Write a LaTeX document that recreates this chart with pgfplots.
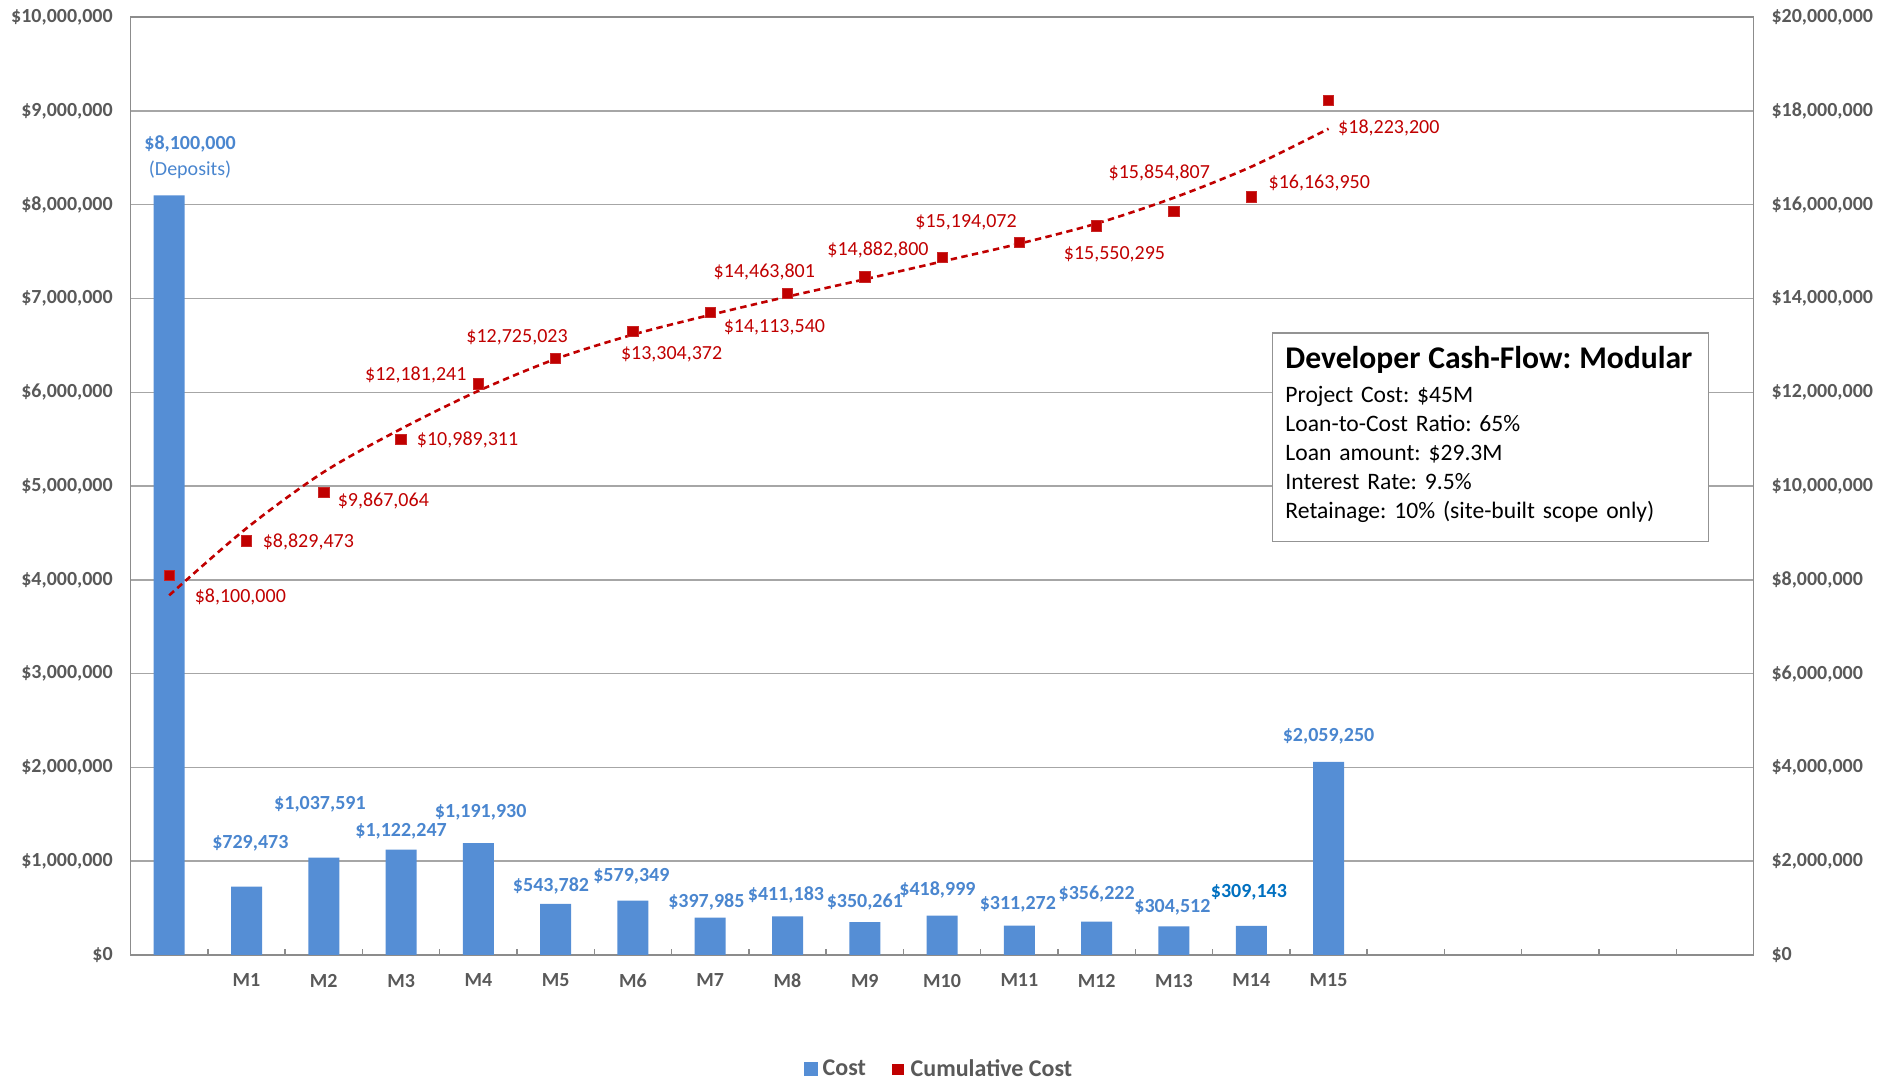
\documentclass[border=0pt]{standalone}
\usepackage{fontspec}
\setmainfont{Carlito}
\usepackage{pgfplots}
\pgfplotsset{compat=1.18}
\frenchspacing

\definecolor{barblue}{HTML}{558ED5}
\definecolor{lblblue}{HTML}{4A86CF}
\definecolor{darkblue}{HTML}{0070C0}
\definecolor{cumred}{HTML}{C00000}
\definecolor{tickgray}{HTML}{595959}
\definecolor{gridgray}{HTML}{A6A6A6}
\definecolor{axisgray}{HTML}{8C8C8C}

\pgfplotsset{
  cashaxis/.style={
    scale only axis, width=811.6pt, height=468.9pt,
    xmin=-0.5, xmax=20.5, clip=false,
    major tick length=0pt,
    ticklabel style={font=\fontsize{10}{12}\selectfont\bfseries, text=tickgray},
  },
}

\tikzset{
  bl/.style={font=\fontsize{10}{12}\selectfont\bfseries, text=lblblue, inner sep=0pt},
  rl/.style={font=\fontsize{10}{12}\selectfont, text=cumred, inner sep=0pt},
}

\begin{document}
\begin{tikzpicture}
\useasboundingbox (-65.3pt,-63.7pt) rectangle (882.3pt,477.5pt);

% monthly cost on the left scale
\begin{axis}[cashaxis,
  ymin=0, ymax=10000000,
  axis line style={draw=axisgray, line width=0.8pt},
  ymajorgrids, grid style={draw=gridgray, line width=0.7pt},
  xtick={1,...,15},
  xticklabels={M1,M2,M3,M4,M5,M6,M7,M8,M9,M10,M11,M12,M13,M14,M15},
  xtick pos=bottom,
  minor xtick={0.5,1.5,...,19.5},
  minor tick length=2.8pt,
  minor x tick style={draw=axisgray, line width=0.7pt},
  xticklabel style={yshift=-6pt},
  ytick={0,1000000,2000000,3000000,4000000,5000000,6000000,7000000,8000000,9000000,10000000},
  yticklabels={{\$0},{\$1,000,000},{\$2,000,000},{\$3,000,000},{\$4,000,000},{\$5,000,000},{\$6,000,000},{\$7,000,000},{\$8,000,000},{\$9,000,000},{\$10,000,000}},
  ytick pos=left,
  yticklabel style={xshift=-5.4pt, inner ysep=0pt},
  legend style={at={(0.4975,-0.122)}, anchor=center, draw=none, fill=none,
    legend columns=2, font=\fontsize{12}{14}\selectfont\bfseries, text=tickgray,
    nodes={inner xsep=0pt},
    /tikz/every even column/.append style={column sep=13pt}},
]
\addplot[ybar, bar width=15.5pt, bar shift=0pt, fill=barblue, draw=none,
  legend image code/.code={\fill[barblue] (0pt,-3.4pt) rectangle (7.2pt,3.8pt);
    \path (9.4pt,0pt);}]
  coordinates {(0,8100000) (1,729473) (2,1037591) (3,1122247) (4,1191930)
    (5,543782) (6,579349) (7,397985) (8,411183) (9,350261) (10,418999)
    (11,311272) (12,356222) (13,304512) (14,309143) (15,2059250)};
\addlegendentry{Cost}
\addlegendimage{legend image code/.code={\fill[cumred] (0pt,-2.5pt) rectangle (5.5pt,2.5pt);
    \path (9pt,0pt);}}
\addlegendentry{Cumulative Cost}

\node[bl] at (axis cs:0.27,8647000) {\$8,100,000};
\node[bl, font=\fontsize{10}{12}\selectfont] at (axis cs:0.27,8376000) {(Deposits)};
\node[bl] at (axis cs:1.05,1186000) {\$729,473};
\node[bl] at (axis cs:1.95,1611000) {\$1,037,591};
\node[bl] at (axis cs:3.00,1314000) {\$1,122,247};
\node[bl] at (axis cs:4.03,1521000) {\$1,191,930};
\node[bl] at (axis cs:4.94,735000) {\$543,782};
\node[bl] at (axis cs:5.98,838000) {\$579,349};
\node[bl] at (axis cs:6.95,567000) {\$397,985};
\node[bl] at (axis cs:7.98,644000) {\$411,183};
\node[bl] at (axis cs:9.00,567000) {\$350,261};
\node[bl] at (axis cs:9.94,696000) {\$418,999};
\node[bl] at (axis cs:10.98,541000) {\$311,272};
\node[bl] at (axis cs:12.00,644000) {\$356,222};
\node[bl] at (axis cs:12.98,503000) {\$304,512};
\node[bl, text=darkblue] at (axis cs:13.97,670000) {\$309,143};
\node[bl] at (axis cs:15.00,2332000) {\$2,059,250};

% project summary box
\node[draw=gray!85, line width=0.7pt, fill=white, anchor=north west,
  inner xsep=6.6pt, inner ysep=0pt, text width=204.8pt, align=left,
  font=\fontsize{11.8}{14.5}\selectfont]
  at (rel axis cs:0.703,0.664)
  {\rule{0pt}{17.9pt}{\fontsize{15.8}{17}\selectfont\bfseries Developer Cash-Flow: Modular}\\[2.4pt]
   Project Cost: \$45M\\
   Loan-to-Cost Ratio: 65\%\\
   Loan amount: \$29.3M\\
   Interest Rate: 9.5\%\\
   Retainage: 10\% (site-built scope only)\rule[-11.5pt]{0pt}{11.5pt}};
\end{axis}

% cumulative cost on the right scale
\begin{axis}[cashaxis,
  ymin=0, ymax=20000000,
  axis x line=none,
  axis y line*=right,
  y axis line style={draw=axisgray, line width=0.8pt},
  ytick={0,2000000,4000000,6000000,8000000,10000000,12000000,14000000,16000000,18000000,20000000},
  yticklabels={{\$0},{\$2,000,000},{\$4,000,000},{\$6,000,000},{\$8,000,000},{\$10,000,000},{\$12,000,000},{\$14,000,000},{\$16,000,000},{\$18,000,000},{\$20,000,000}},
  yticklabel style={xshift=5.4pt, inner ysep=0pt},
]
% trend of the cumulative cost
\addplot[cumred, line width=1.3pt, dash pattern=on 3.2pt off 2.2pt, smooth]
  coordinates {(0,7670000) (1,9100000) (2,10300000) (3,11220000) (4,12030000)
    (5,12710000) (6,13230000) (7,13650000) (8,14040000) (9,14410000)
    (10,14790000) (11,15170000) (12,15600000) (13,16150000) (14,16810000)
    (15,17620000)};
\addplot[only marks, mark=square*, mark size=2.6pt, color=cumred,
  mark options={draw=cumred!85!white, line width=0.4pt}]
  coordinates {(0,8100000) (1,8829473) (2,9867064) (3,10989311) (4,12181241)
    (5,12725023) (6,13304372) (7,13702357) (8,14113540) (9,14463801)
    (10,14882800) (11,15194072) (12,15550295) (13,15854807) (14,16163950)
    (15,18223200)};

\node[rl] at (axis cs:0.92,7630000) {\$8,100,000};
\node[rl] at (axis cs:1.80,8810000) {\$8,829,473};
\node[rl] at (axis cs:2.77,9690000) {\$9,867,064};
\node[rl] at (axis cs:3.86,10980000) {\$10,989,311};
\node[rl] at (axis cs:3.19,12370000) {\$12,181,241};
\node[rl] at (axis cs:4.50,13170000) {\$12,725,023};
\node[rl] at (axis cs:6.50,12810000) {\$13,304,372};
\node[rl] at (axis cs:7.83,13380000) {\$14,113,540};
\node[rl] at (axis cs:7.70,14560000) {\$14,463,801};
\node[rl] at (axis cs:9.17,15030000) {\$14,882,800};
\node[rl] at (axis cs:10.31,15620000) {\$15,194,072};
\node[rl] at (axis cs:12.23,14950000) {\$15,550,295};
\node[rl] at (axis cs:12.81,16680000) {\$15,854,807};
\node[rl] at (axis cs:14.88,16470000) {\$16,163,950};
\node[rl] at (axis cs:15.78,17630000) {\$18,223,200};
\end{axis}
\end{tikzpicture}
\end{document}
